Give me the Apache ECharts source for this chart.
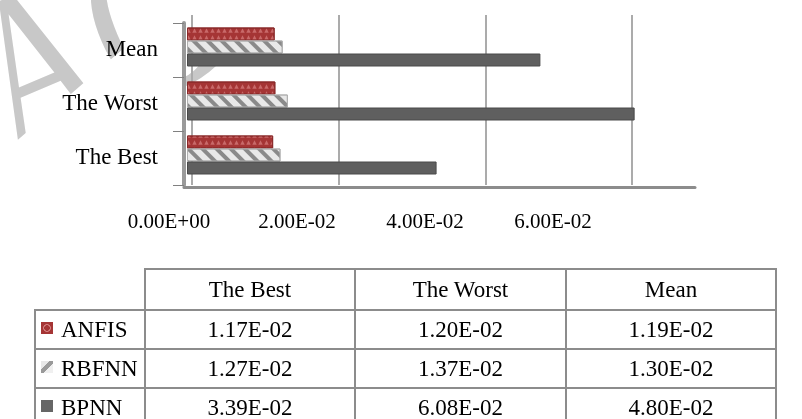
<!DOCTYPE html>
<html>
<head>
<meta charset="utf-8">
<script src="https://cdn.jsdelivr.net/npm/echarts@6/dist/echarts.min.js"></script>
<style>
  html, body { margin: 0; padding: 0; background: #fff; }
  #main { position: absolute; left: 0; top: 0; width: 802px; height: 419px; }
  #tbl { position: absolute; left: 34px; top: 268px; border-collapse: collapse; table-layout: fixed;
         font-family: "Liberation Serif", "Times New Roman", serif; font-size: 23px; color: #000; }
  #tbl td { border: 2px solid #8c8c8c; text-align: center; padding: 0; height: 37px; white-space: nowrap; }
  #tbl tr.head td { height: 39px; }
  #tbl td.corner { border-top-style: hidden; border-left-style: hidden; }
  #tbl td.name { text-align: left; padding-left: 5px; }
  .key { display: inline-block; width: 12px; height: 12px; margin-right: 8px; vertical-align: 3px; }
</style>
</head>
<body>
<div id="main"></div>
<table id="tbl"></table>
<script>
const categories = ['The Best', 'The Worst', 'Mean'];
const seriesNames = ['ANFIS', 'RBFNN', 'BPNN'];
const anfisValues = [0.0117, 0.0120, 0.0119];
const rbfnnValues = [0.0127, 0.0137, 0.0130];
const bpnnValues = [0.0339, 0.0608, 0.0480];
const xTickLabels = ['0.00E+00', '2.00E-02', '4.00E-02', '6.00E-02'];

const FONT = '"Liberation Serif", "Times New Roman", serif';

function fmt(v) {
  const parts = v.toExponential(2).split('e');
  const n = parseInt(parts[1], 10);
  return parts[0] + 'E' + (n < 0 ? '-' : '+') + String(Math.abs(n)).padStart(2, '0');
}

const chart = echarts.init(document.getElementById('main'), null, { renderer: 'canvas' });

const valueMax = 0.069;

function watermarkLetter(ch, x, y) {
  return {
    type: 'text', x: x, y: y, rotation: 0.4, scaleX: 0.75, scaleY: 1, z: -10,
    style: { text: ch, font: '225px ' + FONT, fill: '#c8c8c8', textAlign: 'center', textVerticalAlign: 'middle' }
  };
}

const option = {
  animation: false,
  backgroundColor: 'transparent',
  graphic: [
    watermarkLetter('A', 42, 80),
    watermarkLetter('C', 152, 34),
    {
      // page area that hides the watermark below its slanted baseline
      type: 'polygon',
      z: -9,
      shape: { points: [[-10, 164], [168, 10], [168, 0], [215, 0], [215, 14], [186, 14], [186, 260], [-10, 260]] },
      style: { fill: '#ffffff' }
    }
  ],
  grid: [
    { left: 187, top: 20, width: 508, height: 162 },   // bars
    { left: 192, top: 15, width: 506, height: 170 },   // back wall gridlines
    { left: 184, top: 23, width: 511, height: 162 },   // axis lines, ticks, category labels
    { left: 169, top: 150, width: 384, height: 58 }    // value tick labels
  ],
  xAxis: [
    { gridIndex: 0, type: 'value', min: 0, max: valueMax, show: false },
    { gridIndex: 1, type: 'value', min: 0, max: valueMax, interval: 0.02,
      axisLine: { show: false }, axisTick: { show: false }, axisLabel: { show: false },
      splitLine: { show: true, showMaxLine: false, lineStyle: { color: '#ababab', width: 2 } } },
    { gridIndex: 2, type: 'value', min: 0, max: valueMax, offset: 2,
      axisLine: { show: true, lineStyle: { color: '#8c8c8c', width: 3 } },
      axisTick: { show: false }, axisLabel: { show: false }, splitLine: { show: false } },
    { gridIndex: 3, type: 'category', data: xTickLabels, boundaryGap: false,
      axisLine: { show: false }, axisTick: { show: false }, splitLine: { show: false },
      axisLabel: { show: true, margin: 4, color: '#000', fontSize: 21, fontFamily: FONT, interval: 0 } }
  ],
  yAxis: [
    { gridIndex: 0, type: 'category', data: categories, show: false },
    { gridIndex: 1, type: 'value', show: false },
    { gridIndex: 2, type: 'category', data: categories,
      axisLine: { show: true, lineStyle: { color: '#9a9a9a', width: 4 } },
      axisTick: { show: true, length: 11, lineStyle: { color: '#808080', width: 1 } },
      axisLabel: { show: true, margin: 26, color: '#000', fontSize: 23, fontFamily: FONT },
      splitLine: { show: false } },
    { gridIndex: 3, type: 'value', show: false }
  ],
  series: [
    { name: seriesNames[0], type: 'bar', xAxisIndex: 0, yAxisIndex: 0, data: anfisValues,
      barWidth: 13, barGap: '0%',
      itemStyle: { color: '#a53535', borderColor: '#8a2a2a', borderWidth: 1,
        decal: { symbol: 'triangle', symbolSize: 0.9, dashArrayX: [5, 1], dashArrayY: [5, 2],
                 rotation: 0, color: 'rgba(230,150,150,0.55)' } } },
    { name: seriesNames[1], type: 'bar', xAxisIndex: 0, yAxisIndex: 0, data: rbfnnValues,
      barWidth: 13, barGap: '0%',
      itemStyle: { color: '#e8e8e8', borderColor: '#b0b0b0', borderWidth: 1,
        decal: { symbol: 'rect', symbolSize: 1, dashArrayX: [1, 0], dashArrayY: [4, 6],
                 rotation: Math.PI / 4, color: '#8a8a8a' } } },
    { name: seriesNames[2], type: 'bar', xAxisIndex: 0, yAxisIndex: 0, data: bpnnValues,
      barWidth: 13, barGap: '0%',
      itemStyle: { color: '#5f5f5f', borderColor: '#4a4a4a', borderWidth: 1 } }
  ]
};
chart.setOption(option);

// data table
const tbl = document.getElementById('tbl');
const colgroup = document.createElement('colgroup');
[110, 210, 211, 210].forEach(w => { const c = document.createElement('col'); c.style.width = w + 'px'; colgroup.appendChild(c); });
tbl.appendChild(colgroup);

const head = document.createElement('tr');
head.className = 'head';
const corner = document.createElement('td');
corner.className = 'corner';
head.appendChild(corner);
categories.forEach(c => { const td = document.createElement('td'); td.textContent = c; head.appendChild(td); });
tbl.appendChild(head);

const keyStyles = [
  'background:#a53535; background-image: radial-gradient(circle at 50% 50%, transparent 30%, rgba(240,170,170,0.9) 38%, transparent 50%);',
  'background: linear-gradient(135deg, #e8e8e8 0 35%, #9a9a9a 35% 62%, #f0f0f0 62%);',
  'background:#666;'
];
const rowValues = [anfisValues, rbfnnValues, bpnnValues];
seriesNames.forEach((name, i) => {
  const tr = document.createElement('tr');
  const th = document.createElement('td');
  th.className = 'name';
  const key = document.createElement('span');
  key.className = 'key';
  key.setAttribute('style', keyStyles[i]);
  th.appendChild(key);
  th.appendChild(document.createTextNode(name));
  tr.appendChild(th);
  rowValues[i].forEach(v => { const td = document.createElement('td'); td.textContent = fmt(v); tr.appendChild(td); });
  tbl.appendChild(tr);
});
</script>
</body>
</html>
